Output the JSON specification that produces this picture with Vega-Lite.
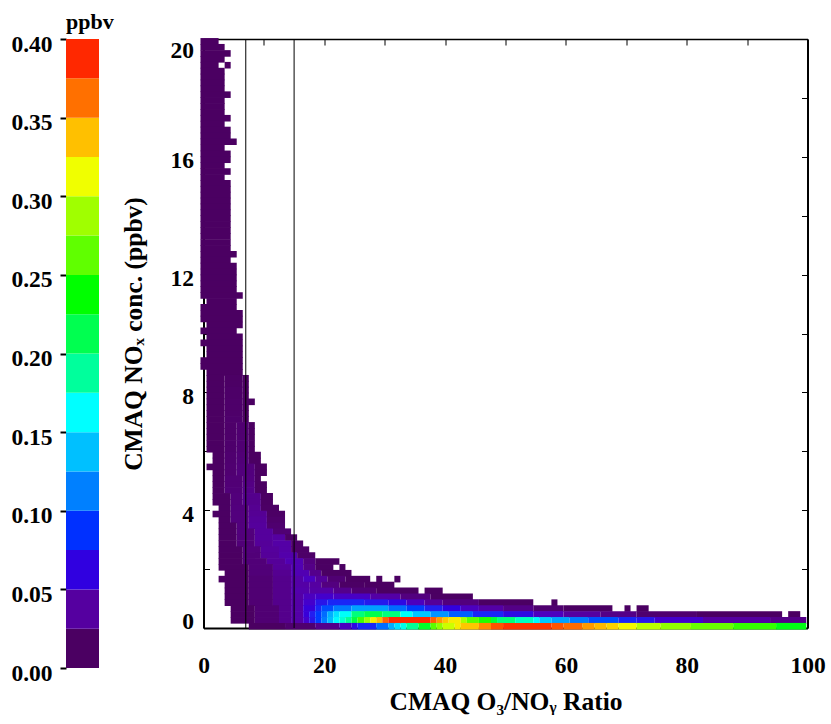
{"$schema":"https://vega.github.io/schema/vega-lite/v6.json","padding":{"left":10,"top":11,"right":0,"bottom":0},"bounds":"flush","spacing":104.5,"config":{"view":{"stroke":null},"font":"Liberation Serif","axis":{"labelFont":"Liberation Serif","titleFont":"Liberation Serif","labelFontSize":23.5,"titleFontSize":25.5,"labelFontWeight":"bold","titleFontWeight":"bold","labelColor":"#000","titleColor":"#000","grid":false,"domainColor":"#000","tickColor":"#000"}},"hconcat":[{"width":33,"height":629,"title":{"text":"ppbv","fontSize":22,"font":"Liberation Serif","fontWeight":"bold","color":"#000","offset":-2,"anchor":"start","frame":"group"},"data":{"values":[{"y":0,"y2":0.025,"v":0.0125},{"y":0.025,"y2":0.05,"v":0.0375},{"y":0.05,"y2":0.075,"v":0.0625},{"y":0.075,"y2":0.1,"v":0.0875},{"y":0.1,"y2":0.125,"v":0.1125},{"y":0.125,"y2":0.15,"v":0.1375},{"y":0.15,"y2":0.175,"v":0.1625},{"y":0.175,"y2":0.2,"v":0.1875},{"y":0.2,"y2":0.225,"v":0.2125},{"y":0.225,"y2":0.25,"v":0.2375},{"y":0.25,"y2":0.275,"v":0.2625},{"y":0.275,"y2":0.3,"v":0.2875},{"y":0.3,"y2":0.325,"v":0.3125},{"y":0.325,"y2":0.35,"v":0.3375},{"y":0.35,"y2":0.375,"v":0.3625},{"y":0.375,"y2":0.4,"v":0.3875}]},"mark":{"type":"rect"},"encoding":{"y":{"field":"y","type":"quantitative","scale":{"domain":[0,0.4],"nice":false},"axis":{"title":null,"values":[0,0.05,0.1,0.15,0.2,0.25,0.3,0.35,0.4],"format":".2f","domain":false,"tickSize":6,"tickWidth":2,"labelPadding":8,"labelOffset":5}},"y2":{"field":"y2"},"color":{"field":"v","type":"quantitative","legend":null,"scale":{"type":"linear","clamp":true,"domain":[0.0125,0.0375,0.0625,0.0875,0.1125,0.1375,0.1625,0.1875,0.2125,0.2375,0.2625,0.2875,0.3125,0.3375,0.3625,0.3875],"range":["#4b0062","#5500a0","#3000e0","#0030ff","#0080ff","#00c0ff","#00ffff","#00ff9c","#00ff50","#00ff00","#60ff00","#a0ff00","#f0ff00","#ffc000","#ff7000","#ff2800"]}}}},{"width":604,"height":589,"resolve":{"axis":{"x":"independent","y":"independent"}},"layer":[{"data":{"values":[
{"x":-0.5,"x2":2.5,"y":19.92,"v":0.01},{"x":-0.5,"x2":3.5,"y":19.72,"v":0.01},{"x":-0.5,"x2":4.5,"y":19.51,"v":0.01},{"x":-0.5,"x2":3.5,"y":19.31,"v":0.01},{"x":-0.5,"x2":2.5,"y":19.11,"v":0.01},{"x":3.5,"x2":4.5,"y":19.11,"v":0.01},
{"x":-0.5,"x2":3.5,"y":18.91,"v":0.01},{"x":-0.5,"x2":3.5,"y":18.71,"v":0.01},{"x":-0.5,"x2":3.5,"y":18.51,"v":0.01},{"x":-0.5,"x2":3.5,"y":18.31,"v":0.01},{"x":-0.5,"x2":4.5,"y":18.11,"v":0.01},{"x":-0.5,"x2":3.5,"y":17.91,"v":0.01},{"x":-0.5,"x2":3.5,"y":17.71,"v":0.01},{"x":-0.5,"x2":3.5,"y":17.51,"v":0.01},{"x":-0.5,"x2":4.5,"y":17.31,"v":0.01},{"x":-0.5,"x2":3.5,"y":17.11,"v":0.01},{"x":-0.5,"x2":4.5,"y":16.91,"v":0.01},{"x":-0.5,"x2":4.5,"y":16.71,"v":0.01},{"x":-0.5,"x2":5.5,"y":16.51,"v":0.01},{"x":-0.5,"x2":3.5,"y":16.3,"v":0.01},{"x":-0.5,"x2":4.5,"y":16.1,"v":0.01},{"x":-0.5,"x2":4.5,"y":15.9,"v":0.01},{"x":-0.5,"x2":3.5,"y":15.7,"v":0.01},{"x":-0.5,"x2":4.5,"y":15.5,"v":0.01},{"x":-0.5,"x2":3.5,"y":15.3,"v":0.01},
{"x":-0.5,"x2":4.5,"y":15.1,"v":0.01},{"x":-0.5,"x2":4.5,"y":14.9,"v":0.01},{"x":-0.5,"x2":4.5,"y":14.7,"v":0.01},{"x":-0.5,"x2":4.5,"y":14.5,"v":0.01},{"x":-0.5,"x2":4.5,"y":14.3,"v":0.01},{"x":-0.5,"x2":4.5,"y":14.1,"v":0.01},{"x":-0.5,"x2":4.5,"y":13.9,"v":0.01},{"x":-0.5,"x2":4.5,"y":13.7,"v":0.01},{"x":-0.5,"x2":4.5,"y":13.5,"v":0.01},{"x":-0.5,"x2":4.5,"y":13.3,"v":0.01},{"x":-0.5,"x2":4.5,"y":13.09,"v":0.01},{"x":-0.5,"x2":4.5,"y":12.89,"v":0.01},
{"x":-0.5,"x2":5.5,"y":12.69,"v":0.01},{"x":-0.5,"x2":4.5,"y":12.49,"v":0.01},{"x":-0.5,"x2":5.5,"y":12.29,"v":0.01},{"x":-0.5,"x2":5.5,"y":12.09,"v":0.01},{"x":-0.5,"x2":5.5,"y":11.89,"v":0.01},{"x":-0.5,"x2":5.5,"y":11.69,"v":0.01},{"x":-0.5,"x2":5.5,"y":11.49,"v":0.01},{"x":-0.5,"x2":6.5,"y":11.29,"v":0.01},{"x":0.5,"x2":5.5,"y":11.09,"v":0.01},{"x":-0.5,"x2":5.5,"y":10.89,"v":0.01},{"x":-0.5,"x2":6.5,"y":10.69,"v":0.01},{"x":-0.5,"x2":6.5,"y":10.49,"v":0.01},{"x":0.5,"x2":6.5,"y":10.29,"v":0.01},{"x":-0.5,"x2":5.5,"y":10.09,"v":0.01},{"x":0.5,"x2":6.5,"y":9.89,"v":0.01},{"x":-0.5,"x2":6.5,"y":9.68,"v":0.01},{"x":0.5,"x2":6.5,"y":9.48,"v":0.01},{"x":0.5,"x2":6.5,"y":9.28,"v":0.01},{"x":-0.5,"x2":6.5,"y":9.08,"v":0.01},{"x":-0.5,"x2":6.5,"y":8.88,"v":0.01},{"x":0.5,"x2":6.5,"y":8.68,"v":0.01},
{"x":0.5,"x2":3.5,"y":8.48,"v":0.01},{"x":3.5,"x2":6.5,"y":8.48,"v":0.014},{"x":6.5,"x2":7.5,"y":8.48,"v":0.012},{"x":0.5,"x2":3.5,"y":8.28,"v":0.01},{"x":3.5,"x2":6.5,"y":8.28,"v":0.014},{"x":6.5,"x2":7.5,"y":8.28,"v":0.012},{"x":0.5,"x2":3.5,"y":8.08,"v":0.01},{"x":3.5,"x2":6.5,"y":8.08,"v":0.015},{"x":6.5,"x2":7.5,"y":8.08,"v":0.012},{"x":0.5,"x2":3.5,"y":7.88,"v":0.01},{"x":3.5,"x2":6.5,"y":7.88,"v":0.015},{"x":6.5,"x2":7.5,"y":7.88,"v":0.012},{"x":0.5,"x2":3.5,"y":7.68,"v":0.01},{"x":3.5,"x2":6.5,"y":7.68,"v":0.016},{"x":6.5,"x2":8.5,"y":7.68,"v":0.012},{"x":0.5,"x2":3.5,"y":7.48,"v":0.01},{"x":3.5,"x2":6.5,"y":7.48,"v":0.016},{"x":6.5,"x2":7.5,"y":7.48,"v":0.012},{"x":0.5,"x2":3.5,"y":7.28,"v":0.01},{"x":3.5,"x2":6.5,"y":7.28,"v":0.016},{"x":6.5,"x2":7.5,"y":7.28,"v":0.012},{"x":0.5,"x2":3.5,"y":7.08,"v":0.01},{"x":3.5,"x2":6.5,"y":7.08,"v":0.017},{"x":6.5,"x2":7.5,"y":7.08,"v":0.012},
{"x":0.5,"x2":3.5,"y":6.88,"v":0.01},{"x":3.5,"x2":5.5,"y":6.88,"v":0.016},{"x":5.5,"x2":7.5,"y":6.88,"v":0.019},{"x":7.5,"x2":8.5,"y":6.88,"v":0.012},{"x":0.5,"x2":3.5,"y":6.68,"v":0.01},{"x":3.5,"x2":5.5,"y":6.68,"v":0.016},{"x":5.5,"x2":7.5,"y":6.68,"v":0.019},{"x":7.5,"x2":8.5,"y":6.68,"v":0.012},{"x":0.5,"x2":3.5,"y":6.48,"v":0.01},{"x":3.5,"x2":5.5,"y":6.48,"v":0.016},{"x":5.5,"x2":7.5,"y":6.48,"v":0.019},{"x":7.5,"x2":8.5,"y":6.48,"v":0.012},{"x":0.5,"x2":3.5,"y":6.27,"v":0.01},{"x":3.5,"x2":5.5,"y":6.27,"v":0.017},{"x":5.5,"x2":7.5,"y":6.27,"v":0.02},{"x":7.5,"x2":8.5,"y":6.27,"v":0.012},{"x":0.5,"x2":3.5,"y":6.07,"v":0.01},{"x":3.5,"x2":5.5,"y":6.07,"v":0.017},{"x":5.5,"x2":7.5,"y":6.07,"v":0.02},{"x":7.5,"x2":8.5,"y":6.07,"v":0.012},
{"x":1.5,"x2":3.5,"y":5.87,"v":0.012},{"x":3.5,"x2":5.5,"y":5.87,"v":0.018},{"x":5.5,"x2":7.5,"y":5.87,"v":0.021},{"x":7.5,"x2":9.5,"y":5.87,"v":0.012},{"x":1.5,"x2":3.5,"y":5.67,"v":0.012},{"x":3.5,"x2":5.5,"y":5.67,"v":0.018},{"x":5.5,"x2":7.5,"y":5.67,"v":0.022},{"x":7.5,"x2":9.5,"y":5.67,"v":0.012},{"x":0.5,"x2":3.5,"y":5.47,"v":0.012},{"x":3.5,"x2":5.5,"y":5.47,"v":0.019},{"x":5.5,"x2":8.5,"y":5.47,"v":0.023},{"x":8.5,"x2":10.5,"y":5.47,"v":0.012},{"x":1.5,"x2":3.5,"y":5.27,"v":0.012},{"x":3.5,"x2":5.5,"y":5.27,"v":0.019},{"x":5.5,"x2":8.5,"y":5.27,"v":0.024},{"x":8.5,"x2":10.5,"y":5.27,"v":0.012},{"x":1.5,"x2":3.5,"y":5.07,"v":0.012},{"x":3.5,"x2":6.5,"y":5.07,"v":0.021},{"x":6.5,"x2":8.5,"y":5.07,"v":0.025},{"x":8.5,"x2":9.5,"y":5.07,"v":0.013},{"x":1.5,"x2":3.5,"y":4.87,"v":0.012},{"x":3.5,"x2":6.5,"y":4.87,"v":0.021},{"x":6.5,"x2":8.5,"y":4.87,"v":0.027},{"x":8.5,"x2":10.5,"y":4.87,"v":0.013},{"x":1.5,"x2":3.5,"y":4.67,"v":0.012},{"x":3.5,"x2":6.5,"y":4.67,"v":0.022},{"x":6.5,"x2":8.5,"y":4.67,"v":0.028},{"x":8.5,"x2":10.5,"y":4.67,"v":0.013},
{"x":1.5,"x2":4.5,"y":4.47,"v":0.013},{"x":4.5,"x2":6.5,"y":4.47,"v":0.023},{"x":6.5,"x2":9.5,"y":4.47,"v":0.03},{"x":9.5,"x2":11.5,"y":4.47,"v":0.013},{"x":1.5,"x2":4.5,"y":4.27,"v":0.013},{"x":4.5,"x2":6.5,"y":4.27,"v":0.023},{"x":6.5,"x2":9.5,"y":4.27,"v":0.03},{"x":9.5,"x2":11.5,"y":4.27,"v":0.013},{"x":2.5,"x2":4.5,"y":4.07,"v":0.013},{"x":4.5,"x2":7.5,"y":4.07,"v":0.024},{"x":7.5,"x2":9.5,"y":4.07,"v":0.032},{"x":9.5,"x2":12.5,"y":4.07,"v":0.014},{"x":1.5,"x2":4.5,"y":3.87,"v":0.013},{"x":4.5,"x2":7.5,"y":3.87,"v":0.024},{"x":7.5,"x2":10.5,"y":3.87,"v":0.033},{"x":10.5,"x2":13.5,"y":3.87,"v":0.014},{"x":2.5,"x2":4.5,"y":3.67,"v":0.013},{"x":4.5,"x2":7.5,"y":3.67,"v":0.024},{"x":7.5,"x2":10.5,"y":3.67,"v":0.035},{"x":10.5,"x2":13.5,"y":3.67,"v":0.016},{"x":2.5,"x2":5.5,"y":3.47,"v":0.013},{"x":5.5,"x2":7.5,"y":3.47,"v":0.024},{"x":7.5,"x2":10.5,"y":3.47,"v":0.036},{"x":10.5,"x2":13.5,"y":3.47,"v":0.018},{"x":2.5,"x2":5.5,"y":3.27,"v":0.013},{"x":5.5,"x2":8.5,"y":3.27,"v":0.024},{"x":8.5,"x2":11.5,"y":3.27,"v":0.036},{"x":11.5,"x2":14.5,"y":3.27,"v":0.02},{"x":2.5,"x2":5.5,"y":3.07,"v":0.013},{"x":5.5,"x2":8.5,"y":3.07,"v":0.023},{"x":8.5,"x2":11.5,"y":3.07,"v":0.036},{"x":11.5,"x2":13.5,"y":3.07,"v":0.038},{"x":13.5,"x2":15.5,"y":3.07,"v":0.014},{"x":2.5,"x2":5.5,"y":2.86,"v":0.013},{"x":5.5,"x2":8.5,"y":2.86,"v":0.022},{"x":8.5,"x2":11.5,"y":2.86,"v":0.035},{"x":11.5,"x2":14.5,"y":2.86,"v":0.04},{"x":14.5,"x2":16.5,"y":2.86,"v":0.015},{"x":2.5,"x2":6.5,"y":2.66,"v":0.013},{"x":6.5,"x2":9.5,"y":2.66,"v":0.023},{"x":9.5,"x2":12.5,"y":2.66,"v":0.036},{"x":12.5,"x2":14.5,"y":2.66,"v":0.04},{"x":14.5,"x2":17.5,"y":2.66,"v":0.015},{"x":2.5,"x2":6.5,"y":2.46,"v":0.012},{"x":6.5,"x2":9.5,"y":2.46,"v":0.022},{"x":9.5,"x2":12.5,"y":2.46,"v":0.035},{"x":12.5,"x2":15.5,"y":2.46,"v":0.042},{"x":15.5,"x2":18.5,"y":2.46,"v":0.015},{"x":2.5,"x2":6.5,"y":2.26,"v":0.012},{"x":6.5,"x2":10.5,"y":2.26,"v":0.022},{"x":10.5,"x2":13.5,"y":2.26,"v":0.035},{"x":13.5,"x2":16.5,"y":2.26,"v":0.045},{"x":16.5,"x2":18.5,"y":2.26,"v":0.025},{"x":18.5,"x2":22.5,"y":2.26,"v":0.012},{"x":2.5,"x2":7.5,"y":2.06,"v":0.012},{"x":7.5,"x2":11.5,"y":2.06,"v":0.022},{"x":11.5,"x2":14.5,"y":2.06,"v":0.035},{"x":14.5,"x2":16.5,"y":2.06,"v":0.045},{"x":16.5,"x2":18.5,"y":2.06,"v":0.028},{"x":18.5,"x2":21.5,"y":2.06,"v":0.013},{"x":22.5,"x2":23.5,"y":2.06,"v":0.01},{"x":3.5,"x2":7.5,"y":1.86,"v":0.012},{"x":7.5,"x2":11.5,"y":1.86,"v":0.022},{"x":11.5,"x2":14.5,"y":1.86,"v":0.032},{"x":14.5,"x2":17.5,"y":1.86,"v":0.045},{"x":17.5,"x2":19.5,"y":1.86,"v":0.03},{"x":19.5,"x2":24.5,"y":1.86,"v":0.013},
{"x":2.5,"x2":7.5,"y":1.66,"v":0.012},{"x":7.5,"x2":11.5,"y":1.66,"v":0.02},{"x":11.5,"x2":14.5,"y":1.66,"v":0.03},{"x":14.5,"x2":16.5,"y":1.66,"v":0.04},{"x":16.5,"x2":18.5,"y":1.66,"v":0.05},{"x":18.5,"x2":20.5,"y":1.66,"v":0.035},{"x":20.5,"x2":23.5,"y":1.66,"v":0.02},{"x":23.5,"x2":27.6,"y":1.66,"v":0.012},{"x":28.6,"x2":29.6,"y":1.66,"v":0.012},{"x":31.6,"x2":32.6,"y":1.66,"v":0.012},
{"x":3.5,"x2":7.5,"y":1.46,"v":0.012},{"x":7.5,"x2":11.5,"y":1.46,"v":0.02},{"x":11.5,"x2":14.5,"y":1.46,"v":0.03},{"x":14.5,"x2":17.5,"y":1.46,"v":0.04},{"x":17.5,"x2":19.5,"y":1.46,"v":0.038},{"x":19.5,"x2":22.5,"y":1.46,"v":0.025},{"x":22.5,"x2":26.6,"y":1.46,"v":0.014},{"x":26.6,"x2":31.6,"y":1.46,"v":0.012},
{"x":3.5,"x2":7.5,"y":1.26,"v":0.012},{"x":7.5,"x2":11.5,"y":1.26,"v":0.02},{"x":11.5,"x2":14.5,"y":1.26,"v":0.03},{"x":14.5,"x2":17.5,"y":1.26,"v":0.042},{"x":17.5,"x2":21.5,"y":1.26,"v":0.04},{"x":21.5,"x2":24.5,"y":1.26,"v":0.03},{"x":24.5,"x2":28.6,"y":1.26,"v":0.02},{"x":28.6,"x2":35.6,"y":1.26,"v":0.012},{"x":36.6,"x2":39.6,"y":1.26,"v":0.012},
{"x":3.5,"x2":7.5,"y":1.06,"v":0.012},{"x":7.5,"x2":11.5,"y":1.06,"v":0.02},{"x":11.5,"x2":14.5,"y":1.06,"v":0.03},{"x":14.5,"x2":16.5,"y":1.06,"v":0.04},{"x":16.5,"x2":18.5,"y":1.06,"v":0.05},{"x":18.5,"x2":21.5,"y":1.06,"v":0.055},{"x":21.5,"x2":27.6,"y":1.06,"v":0.052},{"x":27.6,"x2":32.6,"y":1.06,"v":0.04},{"x":32.6,"x2":37.6,"y":1.06,"v":0.025},{"x":37.6,"x2":44.6,"y":1.06,"v":0.013},
{"x":3.5,"x2":7.5,"y":0.86,"v":0.012},{"x":7.5,"x2":11.5,"y":0.86,"v":0.02},{"x":11.5,"x2":14.5,"y":0.86,"v":0.03},{"x":14.5,"x2":16.5,"y":0.86,"v":0.04},{"x":16.5,"x2":18.5,"y":0.86,"v":0.055},{"x":18.5,"x2":20.5,"y":0.86,"v":0.07},{"x":20.5,"x2":26.6,"y":0.86,"v":0.08},{"x":26.6,"x2":30.6,"y":0.86,"v":0.073},{"x":30.6,"x2":33.6,"y":0.86,"v":0.065},{"x":33.6,"x2":36.6,"y":0.86,"v":0.05},{"x":36.6,"x2":39.6,"y":0.86,"v":0.035},{"x":39.6,"x2":45.6,"y":0.86,"v":0.024},{"x":45.6,"x2":54.6,"y":0.86,"v":0.013},{"x":57.6,"x2":58.6,"y":0.86,"v":0.012},
{"x":4.5,"x2":8.5,"y":0.66,"v":0.012},{"x":8.5,"x2":12.5,"y":0.66,"v":0.02},{"x":12.5,"x2":14.5,"y":0.66,"v":0.03},{"x":14.5,"x2":16.5,"y":0.66,"v":0.04},{"x":16.5,"x2":18.5,"y":0.66,"v":0.06},{"x":18.5,"x2":19.5,"y":0.66,"v":0.08},{"x":19.5,"x2":21.5,"y":0.66,"v":0.095},{"x":21.5,"x2":24.5,"y":0.66,"v":0.11},{"x":24.5,"x2":30.6,"y":0.66,"v":0.125},{"x":30.6,"x2":33.6,"y":0.66,"v":0.105},{"x":33.6,"x2":36.6,"y":0.66,"v":0.09},{"x":36.6,"x2":39.6,"y":0.66,"v":0.075},{"x":39.6,"x2":42.6,"y":0.66,"v":0.062},{"x":42.6,"x2":45.6,"y":0.66,"v":0.05},{"x":45.6,"x2":49.6,"y":0.66,"v":0.04},{"x":49.6,"x2":54.6,"y":0.66,"v":0.028},{"x":54.6,"x2":59.6,"y":0.66,"v":0.018},{"x":59.6,"x2":67.7,"y":0.66,"v":0.012},{"x":69.7,"x2":70.7,"y":0.66,"v":0.012},{"x":71.7,"x2":73.7,"y":0.66,"v":0.012},
{"x":4.5,"x2":8.5,"y":0.46,"v":0.012},{"x":8.5,"x2":12.5,"y":0.46,"v":0.02},{"x":12.5,"x2":14.5,"y":0.46,"v":0.03},{"x":14.5,"x2":16.5,"y":0.46,"v":0.04},{"x":16.5,"x2":17.5,"y":0.46,"v":0.06},{"x":17.5,"x2":18.5,"y":0.46,"v":0.075},{"x":18.5,"x2":19.5,"y":0.46,"v":0.09},{"x":19.5,"x2":20.5,"y":0.46,"v":0.105},{"x":20.5,"x2":21.5,"y":0.46,"v":0.13},{"x":21.5,"x2":22.5,"y":0.46,"v":0.15},{"x":22.5,"x2":24.5,"y":0.46,"v":0.165},{"x":24.5,"x2":26.6,"y":0.46,"v":0.2},{"x":26.6,"x2":29.6,"y":0.46,"v":0.215},{"x":29.6,"x2":32.6,"y":0.46,"v":0.2},{"x":32.6,"x2":34.6,"y":0.46,"v":0.165},{"x":34.6,"x2":37.6,"y":0.46,"v":0.14},{"x":37.6,"x2":40.6,"y":0.46,"v":0.12},{"x":40.6,"x2":44.6,"y":0.46,"v":0.1},{"x":44.6,"x2":49.6,"y":0.46,"v":0.08},{"x":49.6,"x2":54.6,"y":0.46,"v":0.065},{"x":54.6,"x2":59.6,"y":0.46,"v":0.05},{"x":59.6,"x2":65.7,"y":0.46,"v":0.038},{"x":65.7,"x2":71.7,"y":0.46,"v":0.028},{"x":71.7,"x2":81.7,"y":0.46,"v":0.018},{"x":81.7,"x2":95.8,"y":0.46,"v":0.012},{"x":96.8,"x2":98.8,"y":0.46,"v":0.012},
{"x":4.5,"x2":8.5,"y":0.26,"v":0.012},{"x":8.5,"x2":12.5,"y":0.26,"v":0.02},{"x":12.5,"x2":14.5,"y":0.26,"v":0.03},{"x":14.5,"x2":16.5,"y":0.26,"v":0.04},{"x":16.5,"x2":17.5,"y":0.26,"v":0.055},{"x":17.5,"x2":18.5,"y":0.26,"v":0.07},{"x":18.5,"x2":19.5,"y":0.26,"v":0.09},{"x":19.5,"x2":20.5,"y":0.26,"v":0.11},{"x":20.5,"x2":21.5,"y":0.26,"v":0.135},{"x":21.5,"x2":22.5,"y":0.26,"v":0.16},{"x":22.5,"x2":23.5,"y":0.26,"v":0.175},{"x":23.5,"x2":24.5,"y":0.26,"v":0.19},{"x":24.5,"x2":25.5,"y":0.26,"v":0.22},{"x":25.5,"x2":26.6,"y":0.26,"v":0.25},{"x":26.6,"x2":27.6,"y":0.26,"v":0.285},{"x":27.6,"x2":28.6,"y":0.26,"v":0.32},{"x":28.6,"x2":29.6,"y":0.26,"v":0.34},{"x":29.6,"x2":30.6,"y":0.26,"v":0.37},{"x":30.6,"x2":37.6,"y":0.26,"v":0.39},{"x":37.6,"x2":38.6,"y":0.26,"v":0.37},{"x":38.6,"x2":39.6,"y":0.26,"v":0.35},{"x":39.6,"x2":40.6,"y":0.26,"v":0.335},{"x":40.6,"x2":42.6,"y":0.26,"v":0.32},{"x":42.6,"x2":43.6,"y":0.26,"v":0.29},{"x":43.6,"x2":45.6,"y":0.26,"v":0.26},{"x":45.6,"x2":47.6,"y":0.26,"v":0.24},{"x":47.6,"x2":48.6,"y":0.26,"v":0.225},{"x":48.6,"x2":51.6,"y":0.26,"v":0.2},{"x":51.6,"x2":54.6,"y":0.26,"v":0.18},{"x":54.6,"x2":55.6,"y":0.26,"v":0.16},{"x":55.6,"x2":57.6,"y":0.26,"v":0.14},{"x":57.6,"x2":60.6,"y":0.26,"v":0.125},{"x":60.6,"x2":63.7,"y":0.26,"v":0.11},{"x":63.7,"x2":68.7,"y":0.26,"v":0.095},{"x":68.7,"x2":71.7,"y":0.26,"v":0.08},{"x":71.7,"x2":74.7,"y":0.26,"v":0.07},{"x":74.7,"x2":82.7,"y":0.26,"v":0.055},{"x":82.7,"x2":93.8,"y":0.26,"v":0.038},{"x":93.8,"x2":99.8,"y":0.26,"v":0.028},
{"x":7.5,"x2":13.5,"y":0.06,"v":0.012},{"x":13.5,"x2":18.5,"y":0.06,"v":0.018},{"x":18.5,"x2":22.5,"y":0.06,"v":0.03},{"x":22.5,"x2":24.5,"y":0.06,"v":0.05},{"x":24.5,"x2":25.5,"y":0.06,"v":0.065},{"x":25.5,"x2":28.6,"y":0.06,"v":0.08},{"x":28.6,"x2":30.6,"y":0.06,"v":0.105},{"x":30.6,"x2":31.6,"y":0.06,"v":0.13},{"x":31.6,"x2":32.6,"y":0.06,"v":0.15},{"x":32.6,"x2":33.6,"y":0.06,"v":0.17},{"x":33.6,"x2":35.6,"y":0.06,"v":0.19},{"x":35.6,"x2":37.6,"y":0.06,"v":0.23},{"x":37.6,"x2":38.6,"y":0.06,"v":0.26},{"x":38.6,"x2":39.6,"y":0.06,"v":0.28},{"x":39.6,"x2":41.6,"y":0.06,"v":0.3},{"x":41.6,"x2":42.6,"y":0.06,"v":0.32},{"x":42.6,"x2":45.6,"y":0.06,"v":0.335},{"x":45.6,"x2":47.6,"y":0.06,"v":0.355},{"x":47.6,"x2":49.6,"y":0.06,"v":0.375},{"x":49.6,"x2":57.6,"y":0.06,"v":0.385},{"x":57.6,"x2":59.6,"y":0.06,"v":0.375},{"x":59.6,"x2":62.7,"y":0.06,"v":0.365},{"x":62.7,"x2":64.7,"y":0.06,"v":0.35},{"x":64.7,"x2":66.7,"y":0.06,"v":0.34},{"x":66.7,"x2":68.7,"y":0.06,"v":0.33},{"x":68.7,"x2":71.7,"y":0.06,"v":0.315},{"x":71.7,"x2":75.7,"y":0.06,"v":0.295},{"x":75.7,"x2":80.7,"y":0.06,"v":0.28},{"x":80.7,"x2":87.7,"y":0.06,"v":0.265},{"x":87.7,"x2":94.8,"y":0.06,"v":0.245},{"x":94.8,"x2":99.8,"y":0.06,"v":0.235}
]},"mark":{"type":"rect","height":6.6},"encoding":{"x":{"field":"x","type":"quantitative","scale":{"domain":[0,100],"nice":false},"axis":{"title":"CMAQ O₃/NOᵧ Ratio","values":[0,10,20,30,40,50,60,70,80,90,100],"labelExpr":"datum.value%20==0?datum.label:''","tickSize":-6,"labelPadding":31,"domainWidth":2,"titlePadding":13,"labelFlush":false,"labelOverlap":false}},"x2":{"field":"x2"},"y":{"field":"y","type":"quantitative","scale":{"domain":[0,20],"nice":false},"axis":{"title":"CMAQ NOₓ conc. (ppbv)","values":[0,2,4,6,8,10,12,14,16,18,20],"labelExpr":"datum.value%4==0?datum.label:''","tickSize":-6,"labelPadding":16,"domainWidth":2,"titlePadding":24,"labelOverlap":false,"labelOffset":{"expr":"datum.value==0?-7:datum.value==20?11:4"}}},"color":{"field":"v","type":"quantitative","legend":null,"scale":{"type":"linear","clamp":true,"domain":[0.0125,0.0375,0.0625,0.0875,0.1125,0.1375,0.1625,0.1875,0.2125,0.2375,0.2625,0.2875,0.3125,0.3375,0.3625,0.3875],"range":["#4b0062","#5500a0","#3000e0","#0030ff","#0080ff","#00c0ff","#00ffff","#00ff9c","#00ff50","#00ff00","#60ff00","#a0ff00","#f0ff00","#ffc000","#ff7000","#ff2800"]}}}},{"data":{"values":[{"x":7,"y":0,"y2":20},{"x":15,"y":0,"y2":20}]},"mark":{"type":"rule","color":"#000","strokeWidth":1},"encoding":{"x":{"field":"x","type":"quantitative","scale":{"domain":[0,100],"nice":false},"axis":{"orient":"top","title":null,"labels":false,"values":[0,10,20,30,40,50,60,70,80,90,100],"tickSize":-6,"domainWidth":1.5}},"y":{"field":"y","type":"quantitative","scale":{"domain":[0,20],"nice":false},"axis":{"orient":"right","title":null,"labels":false,"values":[0,2,4,6,8,10,12,14,16,18,20],"tickSize":-6,"domainWidth":2}},"y2":{"field":"y2"}}}]}]}
